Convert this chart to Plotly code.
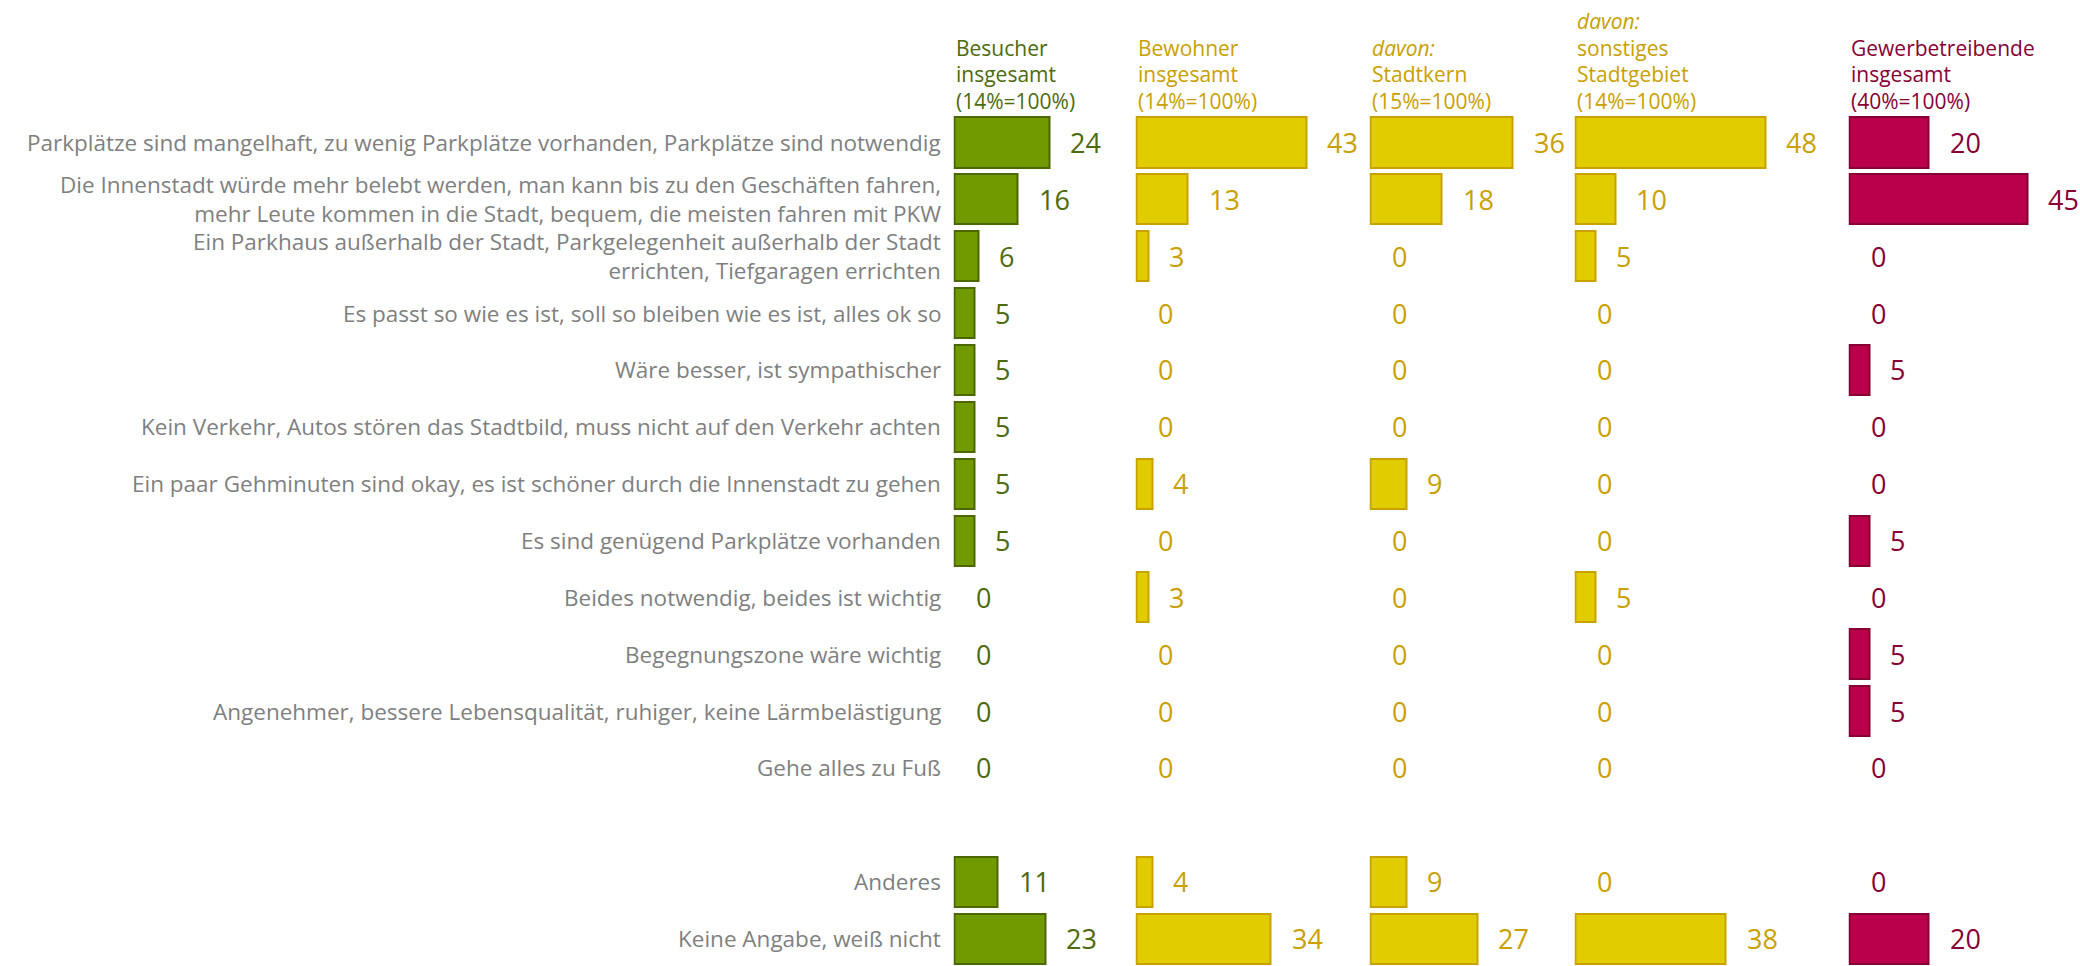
import plotly.graph_objects as go

# --- data -----------------------------------------------------------------
categories = [
    "Parkplätze sind mangelhaft, zu wenig Parkplätze vorhanden, Parkplätze sind notwendig",
    "Die Innenstadt würde mehr belebt werden, man kann bis zu den Geschäften fahren,<br>mehr Leute kommen in die Stadt, bequem, die meisten fahren mit PKW",
    "Ein Parkhaus außerhalb der Stadt, Parkgelegenheit außerhalb der Stadt<br>errichten, Tiefgaragen errichten",
    "Es passt so wie es ist, soll so bleiben wie es ist, alles ok so",
    "Wäre besser, ist sympathischer",
    "Kein Verkehr, Autos stören das Stadtbild, muss nicht auf den Verkehr achten",
    "Ein paar Gehminuten sind okay, es ist schöner durch die Innenstadt zu gehen",
    "Es sind genügend Parkplätze vorhanden",
    "Beides notwendig, beides ist wichtig",
    "Begegnungszone wäre wichtig",
    "Angenehmer, bessere Lebensqualität, ruhiger, keine Lärmbelästigung",
    "Gehe alles zu Fuß",
    "Anderes",
    "Keine Angabe, weiß nicht",
]
# row slots (an empty slot separates the last two rows)
row_pos = [0, 1, 2, 3, 4, 5, 6, 7, 8, 9, 10, 11, 13, 14]

besucher = [24, 16, 6, 5, 5, 5, 5, 5, 0, 0, 0, 0, 11, 23]
bewohner = [43, 13, 3, 0, 0, 0, 4, 0, 3, 0, 0, 0, 4, 34]
stadtkern = [36, 18, 0, 0, 0, 0, 9, 0, 0, 0, 0, 0, 9, 27]
sonstiges = [48, 10, 5, 0, 0, 0, 0, 0, 5, 0, 0, 0, 0, 38]
gewerbe = [20, 45, 0, 0, 5, 0, 0, 5, 0, 5, 5, 0, 0, 20]

headers = [
    [("Besucher", False), ("insgesamt", False), ("(14%=100%)", False)],
    [("Bewohner", False), ("insgesamt", False), ("(14%=100%)", False)],
    [("davon:", True), ("Stadtkern", False), ("(15%=100%)", False)],
    [("davon:", True), ("sonstiges", False), ("Stadtgebiet", False), ("(14%=100%)", False)],
    [("Gewerbetreibende", False), ("insgesamt", False), ("(40%=100%)", False)],
]

series = [besucher, bewohner, stadtkern, sonstiges, gewerbe]

# --- styling --------------------------------------------------------------
W, H = 2080, 966
FONT = "'Open Sans', Lato, sans-serif"
GREEN = dict(fill="#709a00", line="#4c6600", text="#4d6a0c")
YELLOW = dict(fill="#e1cc00", line="#c7a200", text="#c9a000")
MAGENTA = dict(fill="#bb004b", line="#870034", text="#870034")
styles = [GREEN, YELLOW, YELLOW, YELLOW, MAGENTA]

panel_left = [954.5, 1136.5, 1370.5, 1575.5, 1849.5]
panel_right = panel_left[1:] + [W]
PX_PER_UNIT = 3.95

ROW0 = 142.5      # pixel centre of first row
ROW_STEP = 56.86  # pixel distance between rows
y_top = -ROW0 / ROW_STEP
y_bot = (H - ROW0) / ROW_STEP

fig = go.Figure()
annotations = []

for i, (vals, st) in enumerate(zip(series, styles)):
    ax = "x" if i == 0 else f"x{i + 1}"
    fig.add_trace(go.Bar(
        x=[v if v > 0 else None for v in vals],
        y=row_pos,
        orientation="h",
        width=0.88,
        marker=dict(color=st["fill"], line=dict(color=st["line"], width=2)),
        xaxis=ax, yaxis="y",
        hoverinfo="skip",
        showlegend=False,
    ))
    for v, p in zip(vals, row_pos):
        annotations.append(dict(
            x=v, y=p, xref=ax, yref="y",
            text=str(v), showarrow=False,
            xanchor="left", yanchor="middle", xshift=19, yshift=0,
            font=dict(family=FONT, size=27, color=st["text"]),
        ))
    # column heading, one line per annotation, bottom-up
    lines = headers[i]
    for k, (txt, italic) in enumerate(reversed(lines)):
        y_px = 101 - k * 26.7
        annotations.append(dict(
            x=(panel_left[i] - 1) / W, y=1 - y_px / H,
            xref="paper", yref="paper",
            text=f"<i>{txt}</i>" if italic else txt,
            showarrow=False, xanchor="left", yanchor="middle",
            font=dict(family=FONT, size=21, color=st["text"]),
        ))

# row labels, right-aligned against the first panel
for c, p in zip(categories, row_pos):
    annotations.append(dict(
        x=943 / W, y=p, xref="paper", yref="y",
        text=c, showarrow=False, xanchor="right", yanchor="middle",
        align="right",
        font=dict(family=FONT, size=22.5, color="#7f7f7f"),
    ))

layout = dict(
    width=W, height=H,
    margin=dict(l=0, r=0, t=0, b=0),
    paper_bgcolor="white", plot_bgcolor="white",
    bargap=0,
    annotations=annotations,
    yaxis=dict(range=[y_bot, y_top], domain=[0, 1], visible=False,
               showgrid=False, zeroline=False, fixedrange=True),
)
for i in range(5):
    key = "xaxis" if i == 0 else f"xaxis{i + 1}"
    left = panel_left[i] - 1
    right = panel_right[i]
    layout[key] = dict(
        domain=[left / W, right / W],
        range=[-1 / PX_PER_UNIT, (right - left - 1) / PX_PER_UNIT],
        visible=False, showgrid=False, zeroline=False, fixedrange=True,
        anchor="y",
    )

fig.update_layout(**layout)
fig.write_html("out.html")
